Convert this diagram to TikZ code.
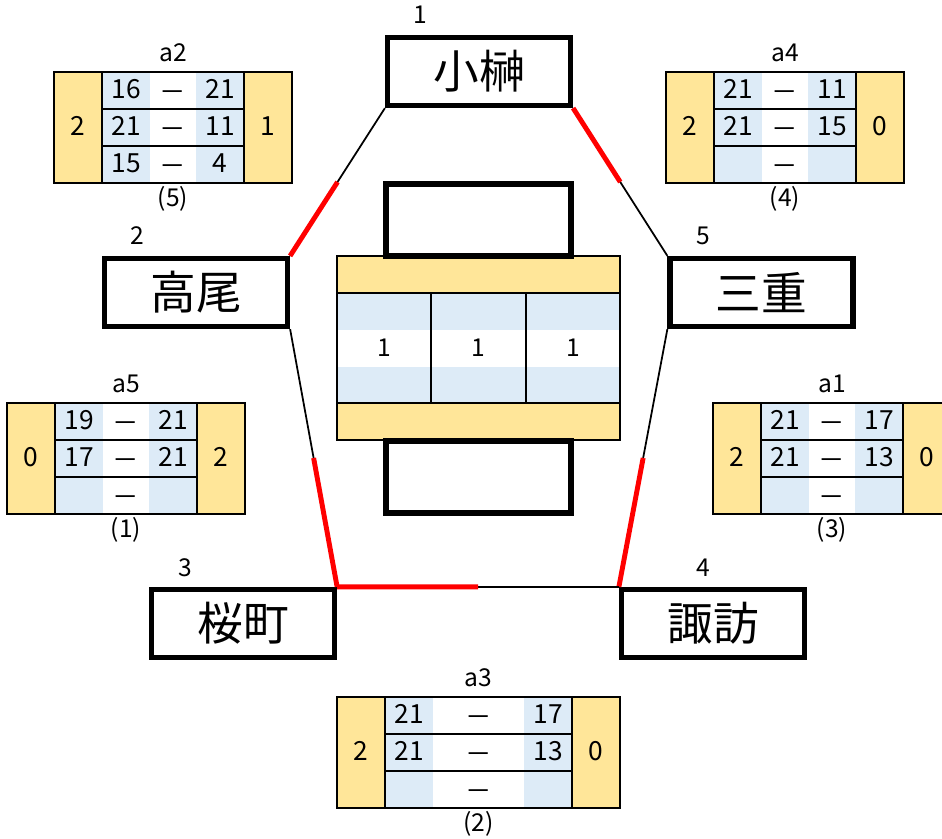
\documentclass[tikz,border=0pt]{standalone}
\usepackage{fontspec}
\setmainfont{Noto Sans CJK JP}
\usetikzlibrary{calc}
\definecolor{pointyellow}{HTML}{FFE699}
\definecolor{gameblue}{HTML}{DDEBF7}
\tikzset{
  team/.style={draw,line width=3pt,fill=white,minimum width=3.66cm,minimum height=1.36cm,inner sep=0pt,font=\fontsize{26}{30}\selectfont},
  won/.style={red,line width=2.8pt},
  lost/.style={black,line width=1pt},
  score/.style={font=\fontsize{15}{18}\selectfont,text height=1.5ex,text depth=0.2ex,yshift=-0.8pt},
  seed/.style={font=\fontsize{14}{16}\selectfont}
}
% Spielkarte: Titel, Nummer, x, y, Breite der Mitte, Saetze links, Saetze rechts, Ergebnisse
\newcommand{\scorebox}[8]{%
  \begin{scope}[shift={(#3,#4)}]
    \pgfmathsetmacro\sbw{192+#5}
    \fill[pointyellow] (0,0) rectangle (48,111);
    \fill[pointyellow] (\sbw-48,0) rectangle (\sbw,111);
    \fill[gameblue] (48,0) rectangle (96,111);
    \fill[gameblue] (\sbw-96,0) rectangle (\sbw-48,111);
    \draw[line width=1.2pt] (48,37) -- (\sbw-48,37);
    \draw[line width=1.2pt] (48,74) -- (\sbw-48,74);
    \draw[line width=1.2pt] (48,0) -- (48,111);
    \draw[line width=1.2pt] (\sbw-48,0) -- (\sbw-48,111);
    \draw[line width=1.6pt] (0,0) rectangle (\sbw,111);
    \node[score] (#1-l) at (24,55.5) {#6};
    \node[score] (#1-r) at (\sbw-24,55.5) {#7};
    \node[seed] (#1-t) at (\sbw/2,-19) {#1};
    \node[seed] (#1-n) at (\sbw/2,127) {(#2)};
    \foreach \i in {1,2,3}
      \node[score,yshift=-2.2pt] (#1-d\i) at (\sbw/2,{37*\i-18.5}) {－};
    \foreach \ls/\rs [count=\i] in {#8} {
      \node[score] (#1-a\i) at (72,{37*\i-18.5}) {\ls};
      \node[score] (#1-b\i) at (\sbw-72,{37*\i-18.5}) {\rs};
    }
  \end{scope}}

\begin{document}
\begin{tikzpicture}[x=0.02cm,y=-0.02cm]
  \useasboundingbox[fill=white] (0,0) rectangle (942,838);
  % Mannschaften
  \node[team] (kosakaki) at (479,71.5) {小榊};
  \node[team] (takao) at (196,292.5) {高尾};
  \node[team] (mie) at (761.5,292.5) {三重};
  \node[team] (sakuramachi) at (243,623.5) {桜町};
  \node[team] (suwa) at (713,623.5) {諏訪};
  % Setznummern
  \node[seed] (s1) at (420,15) {1};
  \node[seed] (s2) at (137,236) {2};
  \node[seed] (s5) at (703,236) {5};
  \node[seed] (s3) at (185,568) {3};
  \node[seed] (s4) at (703,568) {4};
  % Verbindungen
  \draw[lost] (kosakaki.south west) -- (takao.north east);
  \draw[won] ($(kosakaki.south west)!.5!(takao.north east)$) -- (takao.north east);
  \draw[lost] (kosakaki.south east) -- (mie.north west);
  \draw[won] (kosakaki.south east) -- ($(kosakaki.south east)!.5!(mie.north west)$);
  \draw[lost] (takao.south east) -- (sakuramachi.north east);
  \draw[won] ($(takao.south east)!.5!(sakuramachi.north east)$) -- (sakuramachi.north east);
  \draw[lost] (mie.south west) -- (suwa.north west);
  \draw[won] ($(mie.south west)!.5!(suwa.north west)$) -- (suwa.north west);
  \draw[lost] (sakuramachi.north east) -- (suwa.north west);
  \draw[won] (sakuramachi.north east) -- ($(sakuramachi.north east)!.5!(suwa.north west)$);
  % Mitte
  \fill[pointyellow] (337,256) rectangle (620,440);
  \fill[gameblue] (337,293) rectangle (620,330);
  \fill[white] (337,330) rectangle (620,367);
  \fill[gameblue] (337,367) rectangle (620,403);
  \draw[line width=1.4pt] (337,256) rectangle (620,440);
  \draw[line width=1.4pt] (337,293) -- (620,293);
  \draw[line width=1.4pt] (337,403) -- (620,403);
  \draw[line width=1.4pt] (431,293) -- (431,403);
  \draw[line width=1.4pt] (526,293) -- (526,403);
  \foreach \x [count=\i] in {384,478,573}
    \node[seed] (c\i) at (\x,348) {1};
  \draw[line width=3pt] (386,184) rectangle (571,256);
  \draw[line width=3pt] (386,441) rectangle (571,513);
  % Spielkarten
  \scorebox{a2}{5}{54}{72}{46}{2}{1}{16/21,21/11,15/4}
  \scorebox{a4}{4}{666}{72}{46}{2}{0}{21/11,21/15}
  \scorebox{a5}{1}{7}{403}{46}{0}{2}{19/21,17/21}
  \scorebox{a1}{3}{713}{403}{46}{2}{0}{21/17,21/13}
  \scorebox{a3}{2}{337}{697}{91}{2}{0}{21/17,21/13}
\end{tikzpicture}
\end{document}
